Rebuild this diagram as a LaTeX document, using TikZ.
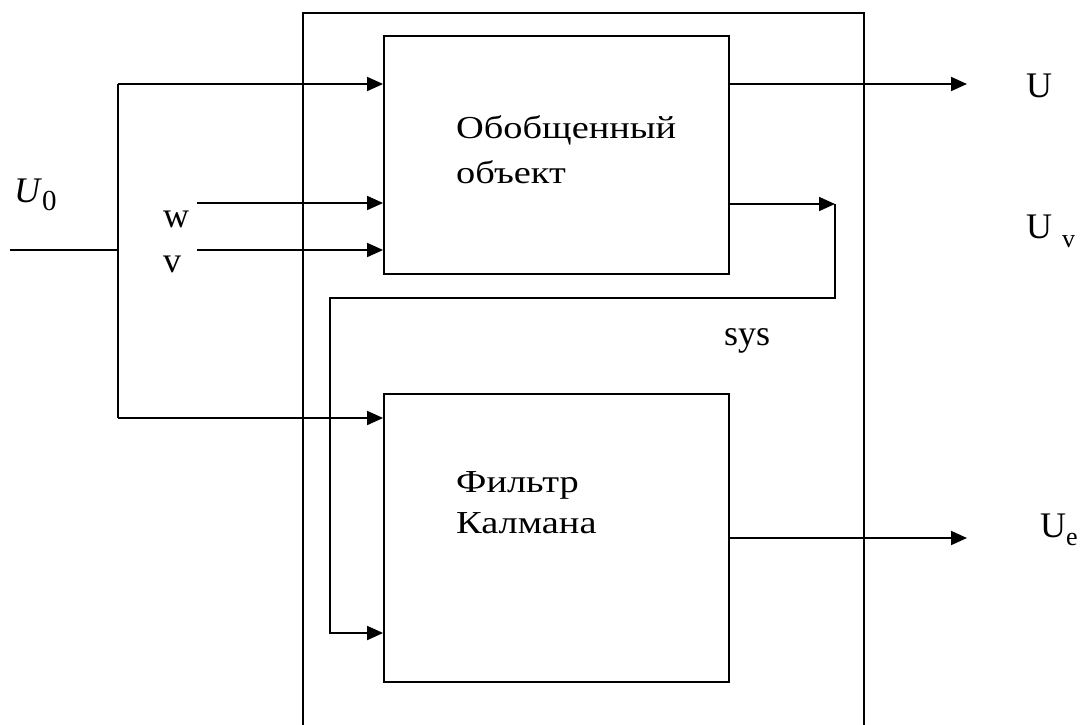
\documentclass[tikz,border=0pt]{standalone}
\usepackage{fontspec}
\setmainfont{Liberation Serif}
\newfontfamily\widefont[FakeStretch=1.2]{Liberation Serif}
\usetikzlibrary{arrows.meta}
\begin{document}
\begin{tikzpicture}[x=1pt,y=-1pt,
  line/.style={line width=1.8pt},
  arr/.style={line, -{Triangle[length=16pt,width=14pt]}},
  blk/.style={draw, line width=1.8pt, minimum width=345pt, inner sep=0pt},
  boxtxt/.style={font=\widefont\fontsize{32}{38}\selectfont, anchor=base west, inner sep=0pt},
  lbl/.style={font=\fontsize{36}{40}\selectfont, anchor=base west, inner sep=0pt}]
\useasboundingbox (0,0) rectangle (1085,725);
% outer frame (open at bottom)
\coordinate (o1) at (303,725);
\coordinate (o2) at (303,13);
\coordinate (o3) at (864,13);
\coordinate (o4) at (864,725);
\draw[line] (o1) -- (o2) -- (o3) -- (o4);
% blocks
\node[blk, minimum height=238pt] (obj) at (556.5,155) {};
\node[blk, minimum height=288pt] (kf) at (556.5,538) {};
% block texts
\node[boxtxt] (t1) at (456,139) {Обобщенный};
\node[boxtxt] (t2) at (456,183) {объект};
\node[boxtxt] (t3) at (456,492) {Фильтр};
\node[boxtxt] (t4) at (456,533) {Калмана};
% input U0
\coordinate (in) at (10,250);
\coordinate (j) at (118,250);
\coordinate (jt) at (118,84);
\coordinate (jb) at (118,418);
\draw[line] (in) -- (j);
\draw[line] (jt) -- (jb);
\draw[arr] (jt) -- (obj.west |- jt);
\draw[arr] (jb) -- (kf.west |- jb);
% w, v
\coordinate (ws) at (197,203);
\coordinate (vs) at (197,250);
\draw[arr] (ws) -- (obj.west |- ws);
\draw[arr] (vs) -- (obj.west |- vs);
% outputs
\coordinate (uo) at (967,84);
\draw[arr] (obj.east |- uo) -- (uo);
\coordinate (ueo) at (967,538);
\draw[arr] (kf.east |- ueo) -- (ueo);
% feedback
\coordinate (f1) at (835,204);
\coordinate (f2) at (835,298);
\coordinate (f3) at (330,298);
\coordinate (f4) at (330,633);
\draw[arr] (obj.east |- f1) -- (f1);
\draw[arr] (f1) -- (f2) -- (f3) -- (f4) -- (kf.west |- f4);
% labels
\node[lbl] (lu0) at (14,202) {\textit{U}\raisebox{-8pt}{\fontsize{29}{30}\selectfont 0}};
\node[lbl] (lw) at (163,227) {w};
\node[lbl] (lv) at (163,272) {v};
\node[lbl] (lsys) at (724,345) {sys};
\node[lbl] (lu) at (1026,98) {U};
\node[lbl] (luv) at (1026,238) {U\hspace{10pt}\raisebox{-9pt}{\fontsize{26}{28}\selectfont v}};
\node[lbl] (lue) at (1040,537) {U\raisebox{-8pt}{\fontsize{26}{28}\selectfont e}};
\end{tikzpicture}
\end{document}
